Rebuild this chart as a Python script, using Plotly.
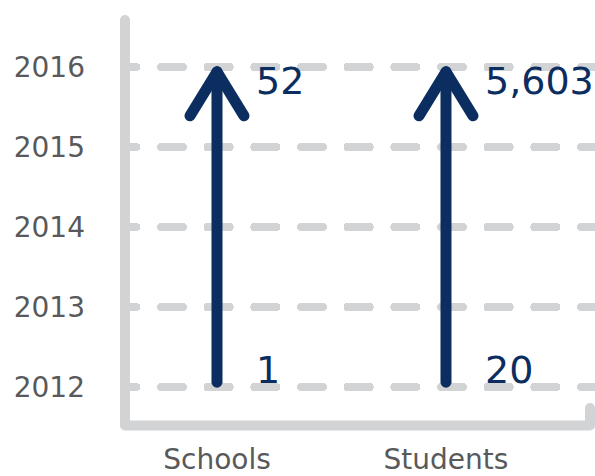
import plotly.graph_objects as go

# ---- data ----
categories = ["Schools", "Students"]
start_year = [2012, 2012]
end_year = [2016, 2016]
start_value = [1, 20]
end_value = [52, 5603]
year_ticks = [2012, 2013, 2014, 2015, 2016]

# ---- style ----
NAVY = "#0b2d5f"
GRAY = "#d2d3d5"
TEXT_GRAY = "#58595b"
FONT = "DejaVu Sans"
W, H = 595, 476
ML, MR, MT, MB = 125, 0, 15, 51
X_RANGE = [-0.4017, 1.6507]
Y_RANGE = [2011.525, 2016.65]
HEAD_DX = 0.118   # arrow head half-width (x units)
HEAD_DY = 0.55    # arrow head length (y units)
INSET = 0.06      # visual inset of arrow ends (y units)

fig = go.Figure()

for i, cat in enumerate(categories):
    y0 = start_year[i] + INSET
    y1 = end_year[i] - INSET
    xs = [i, i, None, i - HEAD_DX, i, i + HEAD_DX]
    ys = [y0, y1, None, y1 - HEAD_DY, y1, y1 - HEAD_DY]
    fig.add_trace(go.Scatter(
        x=xs, y=ys, mode="lines",
        line=dict(color=NAVY, width=11),
        hoverinfo="skip", showlegend=False, cliponaxis=False,
    ))
    fig.add_annotation(
        x=i, y=end_year[i], text=f"{end_value[i]:,}", showarrow=False,
        xanchor="left", yanchor="middle", xshift=37, yshift=-14,
        font=dict(family=FONT, size=38, color=NAVY),
    )
    fig.add_annotation(
        x=i, y=start_year[i], text=f"{start_value[i]:,}", showarrow=False,
        xanchor="left", yanchor="middle", xshift=37, yshift=17,
        font=dict(family=FONT, size=38, color=NAVY),
    )

# axis frame (left axis, baseline, small end tick)
fig.add_shape(
    type="path", xref="paper", yref="paper",
    path="M 0,0.9878 L 0,-0.0012 L 0.98936,-0.0012 L 0.98936,0.0415",
    line=dict(color=GRAY, width=10), layer="above",
)

dash = "11.3px,24.67px," + ",".join(["22px,24.67px"] * 10)

fig.update_layout(
    width=W, height=H,
    margin=dict(l=ML, r=MR, t=MT, b=MB, pad=0, autoexpand=False),
    plot_bgcolor="white", paper_bgcolor="white",
    font=dict(family=FONT, color=TEXT_GRAY),
    xaxis=dict(
        range=X_RANGE, tickvals=list(range(len(categories))), ticktext=categories,
        showgrid=False, zeroline=False, showline=False, ticks="",
        tickfont=dict(family=FONT, size=28, color=TEXT_GRAY),
        ticklabelstandoff=15, fixedrange=True, automargin=False,
    ),
    yaxis=dict(
        range=Y_RANGE, tickvals=year_ticks, ticktext=[str(y) for y in year_ticks],
        showgrid=True, gridcolor=GRAY, gridwidth=8, griddash=dash,
        zeroline=False, showline=False, ticks="",
        tickfont=dict(family=FONT, size=28, color=TEXT_GRAY),
        ticklabelstandoff=39, fixedrange=True, automargin=False,
    ),
)

post_script = """
document.body.style.margin = '0';
document.body.style.padding = '0';
document.body.style.overflow = 'hidden';
var gd = document.getElementById('{plot_id}');
function roundify(){
  gd.querySelectorAll('.scatterlayer .js-line, .shapelayer path, .gridlayer path').forEach(function(p){
    p.style.strokeLinecap = 'round'; p.style.strokeLinejoin = 'round';
  });
}
roundify();
if (gd.on) { gd.on('plotly_afterplot', roundify); }
"""

fig.write_html("out.html", config={"displayModeBar": False, "staticPlot": True}, post_script=post_script)
